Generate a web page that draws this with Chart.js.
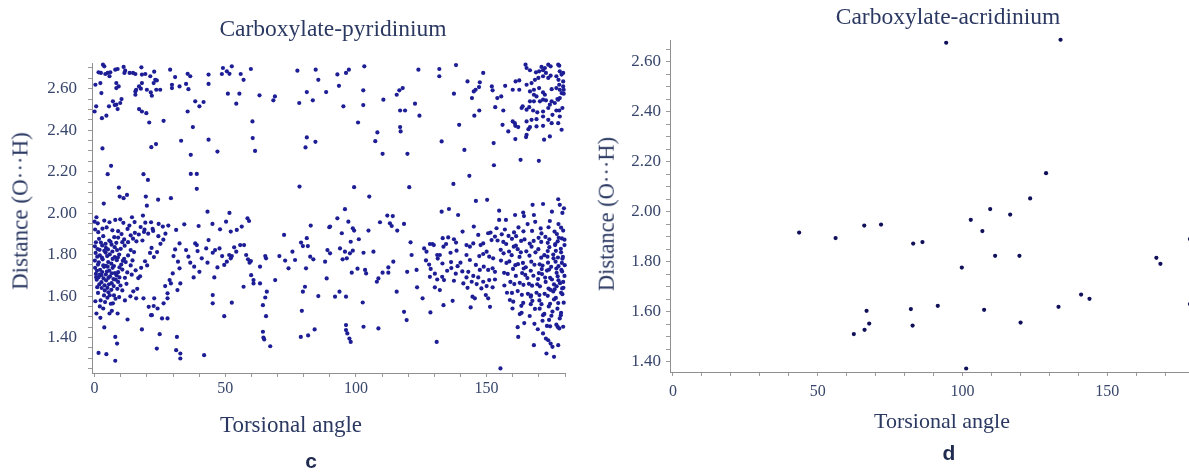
<!DOCTYPE html>
<html>
<head>
<meta charset="utf-8">
<script src="https://cdn.jsdelivr.net/npm/chart.js@4.4.1/dist/chart.umd.min.js"></script>
<style>
  html, body { margin: 0; padding: 0; background: #fff; width: 1189px; height: 472px; overflow: hidden; }
  #wrap { position: relative; width: 1189px; height: 472px; overflow: hidden; }
  canvas { position: absolute; top: 0; }
  .txt { position: absolute; transform: translate(-50%, -50%); white-space: nowrap;
         font-family: "Liberation Serif", "Times New Roman", serif; color: #2b3962; line-height: 1; }
  .rot { transform: translate(-50%, -50%) rotate(-90deg); }
  .tag { font-family: "Liberation Sans", Arial, sans-serif; font-weight: bold; color: #1e2b4f; font-size: 21px; }
</style>
</head>
<body>
<div id="wrap">
  <canvas id="chartC" width="600" height="472" style="left:0px"></canvas>
  <canvas id="chartD" width="600" height="472" style="left:600px"></canvas>

  <div class="txt" style="left:333px; top:29px; font-size:23.5px;">Carboxylate-pyridinium</div>
  <div class="txt" style="left:948px; top:17px; font-size:23.5px;">Carboxylate-acridinium</div>
  <div class="txt" style="left:291px; top:424px; font-size:23px;">Torsional angle</div>
  <div class="txt" style="left:942px; top:421px; font-size:22px;">Torsional angle</div>
  <div class="txt rot" style="left:20px; top:211px; font-size:23px;">Distance (O···H)</div>
  <div class="txt rot" style="left:607px; top:214px; font-size:22.5px;">Distance (O···H)</div>
  <div class="txt tag" style="left:311px; top:460px;">c</div>
  <div class="txt tag" style="left:949px; top:452px;">d</div>
</div>

<script>
// [torsional angle, O...H distance]

// carboxylate-pyridinium, upper band, left half
const pyrUpperLeft = [
  [3.2,2.716],[3.7,2.708],[1.5,2.679],[2.4,2.676],[4.1,2.671],[5.0,2.676],[6.0,2.679],[5.7,2.660],[7.9,2.692],[8.8,2.695],
  [8.3,2.627],[11.1,2.705],[11.7,2.687],[11.4,2.676],[13.4,2.676],[14.7,2.676],[15.6,2.671],[17.9,2.703],[18.1,2.668],[19.4,2.671],
  [21.3,2.660],[22.8,2.682],[23.2,2.643],[23.8,2.640],[22.6,2.627],[18.1,2.627],[17.0,2.611],[15.6,2.587],[15.6,2.571],[15.9,2.595],
  [17.7,2.600],[20.0,2.595],[21.5,2.582],[21.9,2.566],[23.6,2.595],[25.1,2.595],[28.9,2.692],[30.8,2.656],[29.6,2.619],[29.6,2.603],
  [32.5,2.611],[35.0,2.623],[35.6,2.672],[36.6,2.660],[35.9,2.598],[43.6,2.668],[43.6,2.623],[49.1,2.700],[48.7,2.671],[50.6,2.684],
  [51.6,2.672],[52.5,2.708],[55.9,2.671],[57.0,2.643],[59.8,2.695],[51.0,2.576],[55.4,2.576],[63.1,2.568],[54.2,2.528],[68.4,2.544],
  [69.0,2.563],[77.6,2.687],[84.6,2.692],[85.6,2.643],[81.2,2.584],[78.3,2.531],[83.5,2.544],[88.6,2.584],
  [0.3,2.619],[2.2,2.627],[2.6,2.579],[0.6,2.515],[0.0,2.490],[2.8,2.458],[4.5,2.470],[5.5,2.515],[7.0,2.539],[8.3,2.523],
  [8.8,2.502],[7.7,2.521],[9.8,2.531],[10.3,2.550],[8.3,2.603],[9.2,2.611],
  [17.0,2.502],[18.1,2.490],[19.8,2.482],[20.9,2.437],[26.4,2.445],[37.6,2.415],[38.5,2.539],[40.1,2.515],[41.7,2.536],[35.6,2.490],
  [33.1,2.349],[43.6,2.354],[47.0,2.297],[36.8,2.281],[60.4,2.442],[60.5,2.362],[61.4,2.300],[3.0,2.312],[21.7,2.318],[23.5,2.333],
  [81.2,2.365],[80.7,2.317],[84.5,2.344],[6.3,2.228],[5.0,2.188],[18.7,2.188],[20.4,2.160],[36.8,2.189],[39.1,2.189],[39.1,2.117],
  [78.4,2.128],[9.3,2.123]
];

// carboxylate-pyridinium, upper band, right half
const pyrUpperRight = [
  [92.9,2.669],[96.2,2.676],[97.3,2.692],[103.2,2.708],[93.5,2.614],[95.2,2.515],[102.8,2.592],[102.8,2.521],[100.8,2.437],[110.5,2.547],
  [108.2,2.389],[107.4,2.347],[110.2,2.286],[99.3,2.125],[123.9,2.692],[131.9,2.695],[131.9,2.660],[138.3,2.714],[148.7,2.676],[115.6,2.571],
  [116.6,2.592],[117.9,2.603],[116.9,2.495],[118.8,2.495],[122.6,2.528],[124.3,2.470],[116.9,2.415],[117.1,2.394],[119.7,2.286],[120.4,2.125],
  [137.5,2.576],[132.8,2.346],[139.5,2.426],[141.5,2.305],[143.4,2.180],[137.3,2.141],[142.7,2.635],[145.1,2.587],[145.8,2.595],[147.1,2.608],
  [147.4,2.631],[144.4,2.555],[145.3,2.470],[147.2,2.495],[152.0,2.611],[152.3,2.592],[154.1,2.555],[155.6,2.563],[153.3,2.511],[156.4,2.495],
  [157.1,2.614],[160.0,2.595],[161.1,2.635],[162.5,2.595],[162.5,2.640],[163.4,2.507],[156.1,2.426],[160.0,2.442],[161.0,2.421],[158.3,2.394],
  [161.0,2.357],[152.7,2.338],[152.8,2.231],[163.0,2.257],[170.0,2.252],
  [164.9,2.716],[165.3,2.700],[166.6,2.689],[168.9,2.679],[170.1,2.684],[171.0,2.705],[172.3,2.700],[173.6,2.716],[174.5,2.708],[177.4,2.716],
  [177.8,2.711],[178.0,2.684],[179.3,2.676],[178.7,2.668],[171.6,2.689],[172.7,2.676],[165.3,2.619],[167.2,2.627],[168.5,2.643],[169.8,2.652],
  [171.6,2.660],[173.6,2.652],[174.5,2.663],[176.7,2.660],[177.5,2.643],[179.3,2.635],[177.8,2.619],[179.3,2.611],[179.5,2.595],[178.0,2.595],
  [176.7,2.603],[178.7,2.579],[179.5,2.576],[178.0,2.555],[177.1,2.550],[166.6,2.587],[168.1,2.595],[170.1,2.603],[171.6,2.582],[174.9,2.598],
  [168.1,2.571],[169.1,2.563],[172.3,2.571],[166.6,2.539],[168.1,2.539],[170.4,2.539],[171.6,2.547],[172.7,2.544],[174.9,2.539],[176.1,2.531],
  [177.4,2.547],[163.8,2.515],[165.3,2.499],[166.3,2.511],[167.8,2.495],[169.4,2.486],[171.6,2.490],[173.6,2.507],[174.2,2.523],[176.7,2.495],
  [177.8,2.495],[179.0,2.507],[178.0,2.466],[175.2,2.474],[171.6,2.466],[169.1,2.453],[167.2,2.450],[165.3,2.442],[166.6,2.415],[169.1,2.418],
  [171.6,2.421],[173.6,2.450],[174.9,2.434],[177.4,2.434],[178.7,2.402],[174.2,2.370],[172.0,2.354],[165.1,2.367],[165.3,2.378],[162.1,2.415],
  [160.8,2.434],[166.0,2.405]
];

// carboxylate-pyridinium, lower band, 0-30 degrees
const pyrLowerLeft = [
  [9.6,2.080],[11.1,2.072],[12.4,2.088],[19.6,2.080],[20.0,2.036],[24.3,2.065],[29.2,2.072],[3.5,2.046],
  [0.7,1.980],[0.0,1.959],[1.2,1.951],[3.7,1.964],[5.7,1.956],[7.9,1.967],[9.8,1.970],[14.3,1.980],[18.5,1.988],[19.4,1.954],
  [21.6,1.956],[24.5,1.948],[26.1,1.935],
  [0.2,1.921],[1.4,1.908],[3.0,1.925],[4.6,1.931],[6.8,1.917],[9.0,1.913],[10.3,1.899],[12.6,1.924],[13.8,1.893],[15.4,1.905],
  [16.9,1.897],[18.9,1.909],[20.5,1.901],[22.4,1.914],[18.3,1.868],[16.0,1.864],[14.7,1.877],[12.8,1.860],[11.3,1.873],[9.0,1.882],
  [7.5,1.884],[5.6,1.868],[3.3,1.889],[1.7,1.876],[0.5,1.859],[0.1,1.840],[1.1,1.827],[2.9,1.844],[4.3,1.833],[6.5,1.848],
  [7.7,1.836],[10.0,1.828],[11.5,1.843],[13.8,1.822],[15.1,1.812],[0.4,1.808],[2.0,1.796],[4.2,1.810],[5.8,1.801],[7.7,1.788],
  [9.4,1.800],[11.3,1.780],[12.8,1.796],[14.5,1.772],[0.1,1.771],[1.6,1.763],[3.1,1.777],[5.2,1.764],[6.4,1.756],[8.5,1.773],
  [10.2,1.752],[11.9,1.764],[13.8,1.748],[0.2,1.736],[2.1,1.727],[3.6,1.741],[5.6,1.723],[6.9,1.736],[9.0,1.715],[10.6,1.728],
  [12.5,1.714],[0.5,1.707],[2.0,1.703],[4.3,1.704],[5.9,1.695],[7.8,1.711],[9.5,1.690],[11.6,1.688],[0.8,1.679],[2.6,1.667],
  [4.4,1.676],[6.5,1.662],[8.1,1.679],[9.9,1.651],[12.2,1.659],[1.0,1.643],[2.7,1.639],[4.9,1.640],[6.4,1.630],[8.7,1.635],
  [10.6,1.627],[1.3,1.615],[3.6,1.603],[5.3,1.618],[7.4,1.603],[9.4,1.595],[2.3,1.579],[4.0,1.571],[6.2,1.563],[8.0,1.587],
  [0.3,1.575],[11.6,1.579],[13.7,1.599],[14.8,1.623],[16.3,1.635],[16.7,1.687],[17.4,1.695],[14.2,1.703],[15.7,1.724],[17.8,1.736],
  [19.3,1.768],[20.1,1.748],[21.2,1.808],[22.7,1.788],[21.8,1.832],[23.9,1.812],[25.2,1.852],[26.3,1.872],[24.4,1.889],[27.1,1.901],
  [28.2,1.940],[17.6,1.933],[19.1,1.920],[22.2,1.924],[13.3,1.940],[11.0,1.953],[15.3,1.957],
  [1.0,1.790],[2.8,1.785],[4.8,1.793],[6.9,1.779],[8.9,1.786],[10.8,1.770],[1.3,1.752],[3.3,1.748],[5.0,1.742],[7.4,1.745],
  [9.5,1.738],[0.9,1.722],[2.9,1.716],[4.7,1.718],[6.6,1.710],[8.4,1.700],[1.5,1.690],[3.4,1.685],[5.3,1.688],[7.2,1.682],
  [9.0,1.668],[1.8,1.656],[3.8,1.652],[5.5,1.657],[7.3,1.648],[1.9,1.823],[3.7,1.818],[5.1,1.825],[6.8,1.815],[8.6,1.822],
  [2.4,1.858],[4.2,1.852],[6.1,1.862],[8.3,1.857],[10.6,1.860],[4.3,1.746],[2.6,1.701],[0.6,1.691],[3.9,1.627],[5.8,1.604],
  [2.0,1.550],[3.3,1.540],[4.9,1.592],
  [0.7,1.516],[2.2,1.495],[3.7,1.449],[5.7,1.516],[6.6,1.529],[7.0,1.565],[8.8,1.516],[12.6,1.487],[7.9,1.403],[8.6,1.371],
  [1.5,1.326],[4.5,1.320],[7.9,1.288],[18.1,1.439],[21.9,1.508],[23.8,1.347],[24.9,1.416],[25.8,1.492],[27.9,1.492],[24.1,1.540],
  [26.4,1.565],[27.9,1.589],[29.2,1.661],[15.9,1.589],[18.7,1.589],[22.8,1.589],[20.7,1.548],[22.6,1.552],[21.6,1.508]
];

// carboxylate-pyridinium, lower band, 30-90 degrees
const pyrLowerMid = [
  [34.3,1.946],[39.8,1.938],[43.2,2.007],[45.1,1.948],[50.3,1.959],[51.6,2.001],[58.5,1.975],[59.1,1.962],[56.3,1.935],[54.4,1.919],
  [48.0,1.922],[52.1,1.911],[31.2,1.919],[30.8,1.825],[32.5,1.854],[30.2,1.793],[31.9,1.766],[32.5,1.734],[29.9,1.709],[28.7,1.677],
  [27.0,1.648],[27.9,1.613],[31.7,1.629],[32.8,1.661],[35.0,1.822],[35.9,1.790],[36.6,1.761],[38.5,1.854],[39.1,1.846],[39.4,1.817],
  [38.1,1.742],[40.1,1.717],[37.9,1.690],[41.0,1.782],[42.7,1.830],[43.2,1.761],[43.6,1.870],[45.2,1.809],[45.8,1.690],[46.1,1.822],
  [47.8,1.830],[47.0,1.738],[48.8,1.793],[49.6,1.750],[50.6,1.766],[51.5,1.798],[52.1,1.782],[52.5,1.793],[53.4,1.835],[54.2,1.814],
  [55.7,1.846],[57.2,1.846],[58.0,1.798],[58.7,1.777],[59.3,1.761],[59.9,1.701],[60.8,1.661],[59.8,1.769],[63.3,1.742],[65.3,1.793],
  [65.6,1.782],[63.3,1.661],[65.3,1.593],[65.9,1.621],[64.4,1.556],[65.6,1.503],[64.4,1.428],[64.6,1.400],[64.9,1.391],[67.2,1.358],
  [69.1,1.677],[70.7,1.793],[72.5,1.895],[72.9,1.771],[74.2,1.734],[75.7,1.814],[76.7,1.774],[79.0,1.858],[79.7,1.841],[81.2,1.879],
  [81.6,1.841],[82.5,1.790],[82.7,1.940],[83.7,1.777],[80.9,1.734],[80.5,1.645],[79.7,1.621],[79.3,1.529],[78.9,1.403],[81.7,1.410],
  [84.2,1.439],[85.6,1.600],[88.8,1.685],[89.1,1.822],[89.8,1.932],[88.2,1.766],
  [31.5,1.403],[31.2,1.339],[32.8,1.323],[32.8,1.299],[41.9,1.315],[49.6,1.503],[45.2,1.565],[45.2,1.605],[52.5,1.568],[57.0,1.645],
  [60.8,1.677]
];

// carboxylate-pyridinium, lower band, 90-155 degrees
const pyrLowerRightMid = [
  [105.1,2.080],[95.8,2.019],[92.9,1.975],[90.1,1.935],[94.6,1.903],[97.1,1.959],[98.8,1.927],[99.3,1.916],[98.0,1.862],[101.1,1.874],
  [104.8,1.916],[109.2,1.956],[112.0,1.988],[114.1,1.986],[113.0,1.951],[113.7,1.938],[115.8,1.916],[118.4,1.948],[120.9,1.859],[121.3,1.798],
  [114.3,1.766],[112.4,1.738],[110.2,1.713],[106.7,1.814],[102.9,1.809],[100.6,1.732],[103.5,1.726],[103.9,1.709],[108.0,1.669],[108.6,1.685],
  [97.7,1.806],[96.5,1.782],[94.9,1.777],[93.9,1.830],[95.8,1.814],[98.8,1.819],[90.1,1.806],[92.0,1.597],[93.7,1.621],[96.2,1.597],
  [102.6,1.569],[98.4,1.713],[112.4,1.713],[115.6,1.621],[119.6,1.717],[118.4,1.524],[119.4,1.484],[123.2,1.726],[123.4,1.642],[125.5,1.589],
  [128.5,1.521],[130.9,1.379],[96.2,1.460],[96.2,1.436],[96.7,1.420],[97.5,1.395],[98.0,1.379],[102.9,1.452],[108.6,1.444],
  [126.1,1.830],[127.0,1.814],[128.3,1.851],[129.3,1.851],[129.8,1.846],[131.1,1.798],[132.1,1.798],[133.5,1.838],[134.5,1.851],[135.3,1.883],
  [137.5,1.874],[138.3,1.858],[133.2,1.879],[126.8,1.772],[128.0,1.752],[131.3,1.781],[133.1,1.757],[136.4,1.764],[138.9,1.744],[140.0,1.761],
  [136.2,1.809],[138.5,1.819],[140.8,1.911],[142.3,1.846],[143.6,1.838],[144.9,1.854],[145.1,1.935],[146.8,1.895],[147.7,1.846],[148.7,1.854],
  [150.6,1.903],[151.5,1.906],[151.9,1.870],[153.2,1.887],[147.2,1.793],[148.7,1.803],[150.0,1.814],[151.0,1.790],[152.5,1.782],[143.6,1.774],
  [145.9,1.750],[147.4,1.726],[148.9,1.742],[150.6,1.726],[152.3,1.734],[153.2,1.717],[143.0,1.717],[144.9,1.697],[146.8,1.690],[148.7,1.669],
  [151.0,1.677],[153.2,1.680],[128.6,1.731],[130.2,1.708],[133.0,1.693],[134.9,1.722],[136.5,1.735],[138.2,1.708],[140.7,1.719],[142.3,1.690],
  [144.3,1.669],[131.1,1.680],[133.7,1.677],[137.5,1.674],[141.1,1.661],[142.7,1.640],[146.2,1.658],[148.0,1.637],[150.0,1.648],[152.3,1.642],
  [144.6,1.597],[145.5,1.589],[149.7,1.605],[150.6,1.589],[151.3,1.548],[143.9,1.545],[137.0,1.577],[128.3,1.693],[130.2,1.642],[132.1,1.629],
  [133.5,1.556],[142.3,1.798],
  [132.8,2.007],[135.6,2.020],[139.1,1.991],[145.9,2.059],[150.2,2.064],[154.8,2.012],[157.4,1.967],[160.9,1.991],[164.0,2.003],[164.3,1.986],
  [167.6,2.040],[168.1,1.991],[171.6,2.044],[175.0,2.007],[177.4,2.067],[178.0,2.040],[179.6,2.023],[179.0,2.001],[154.8,1.967],[153.8,1.927]
];

// carboxylate-pyridinium, lower band, 155-180 degrees
const pyrLowerRight = [
  [155.8,1.898],[157.0,1.921],[158.4,1.890],[160.5,1.907],[161.3,1.889],[162.2,1.931],[164.1,1.912],[165.7,1.947],[167.4,1.914],[168.6,1.958],
  [170.7,1.926],[171.0,1.902],[173.7,1.932],[174.2,1.962],[176.0,1.911],[177.5,1.947],[178.5,1.930],[179.3,1.916],[177.6,1.881],[176.9,1.899],
  [179.8,1.872],[154.2,1.868],[156.4,1.861],[157.5,1.851],[159.7,1.876],[161.2,1.843],[163.2,1.866],[164.5,1.873],[166.5,1.853],[168.0,1.866],
  [169.9,1.881],[170.9,1.861],[173.4,1.857],[174.0,1.874],[176.3,1.851],[177.2,1.864],[178.8,1.878],[179.8,1.846],[155.4,1.823],[156.5,1.806],
  [158.6,1.815],[159.6,1.797],[161.9,1.826],[163.1,1.811],[165.2,1.816],[166.4,1.795],[168.7,1.811],[169.8,1.826],[172.1,1.797],[173.4,1.817],
  [175.5,1.800],[176.5,1.818],[178.5,1.811],[179.2,1.789],[155.5,1.771],[157.6,1.760],[158.7,1.767],[161.0,1.749],[162.0,1.754],[163.9,1.760],
  [165.0,1.739],[167.1,1.766],[168.3,1.751],[170.3,1.753],[171.4,1.747],[173.5,1.761],[174.7,1.741],[176.4,1.766],[177.5,1.744],[178.8,1.760],
  [179.9,1.749],[156.7,1.712],[158.1,1.707],[160.1,1.731],[161.2,1.697],[163.6,1.711],[164.8,1.702],[166.9,1.722],[167.9,1.698],[170.0,1.711],
  [171.2,1.706],[173.1,1.723],[174.3,1.688],[176.8,1.712],[177.2,1.695],[178.9,1.719],[179.8,1.697],[156.8,1.651],[159.1,1.668],[160.6,1.658],
  [162.7,1.664],[164.1,1.654],[166.2,1.659],[167.4,1.650],[169.4,1.657],[170.4,1.647],[172.6,1.668],[173.7,1.636],[175.8,1.656],[176.8,1.647],
  [178.1,1.662],[179.4,1.640],[157.8,1.616],[159.7,1.615],[161.9,1.624],[163.5,1.606],[165.8,1.611],[167.0,1.603],[169.1,1.616],[170.2,1.605],
  [172.2,1.611],[173.4,1.601],[175.5,1.622],[176.5,1.591],[178.5,1.616],[179.0,1.609],[160.2,1.573],[163.3,1.553],[164.0,1.567],[166.9,1.561],
  [167.5,1.577],[170.3,1.539],[171.0,1.561],[173.8,1.550],[174.3,1.563],[177.1,1.539],[177.4,1.566],[179.5,1.568],[162.7,1.513],[163.4,1.519],
  [166.5,1.504],[168.5,1.538],[171.6,1.508],[172.1,1.514],[174.8,1.505],[175.2,1.525],[178.4,1.508],[178.5,1.519],[161.9,1.450],[164.4,1.470],
  [168.3,1.466],[171.4,1.481],[173.1,1.456],[174.3,1.454],[176.7,1.462],[177.8,1.444],[177.2,1.451],
  [162.1,1.403],[168.1,1.363],[171.6,1.420],[172.7,1.395],[173.6,1.387],[174.5,1.371],[175.2,1.355],[172.9,1.323],[175.8,1.307],[177.4,1.363],
  [178.0,1.492],[179.3,1.452],[158.9,1.581],[159.9,1.540],[155.3,1.251],
  [172.5,1.885],[174.0,1.836],[176.2,1.846],[178.4,1.828],[170.9,1.785],[173.3,1.790],[175.6,1.782],[177.3,1.786],[179.0,1.780],[171.1,1.730],
  [173.9,1.728],[176.7,1.733],[178.6,1.726],[169.7,1.682],[172.4,1.689],[175.0,1.680],[177.5,1.676],[179.3,1.668],[174.4,1.630],[176.0,1.633],
  [178.9,1.637],[170.2,1.579],[175.8,1.584],[173.9,1.485],[169.6,1.440],[166.9,1.597],[164.2,1.733],[162.6,1.789],[160.4,1.838],[167.2,1.838],
  [165.6,1.687]
];

// carboxylate-acridinium
const acridinium = [
  [43.6,1.916],[56.2,1.894],[66.1,1.944],[71.9,1.948],[83.0,1.872],[86.2,1.878],[102.9,1.967],[109.6,2.010],[116.5,1.988],[106.9,1.922],
  [111.3,1.823],[119.7,1.823],[99.8,1.776],[167.0,1.815],[168.4,1.791],[66.9,1.603],[82.2,1.610],[91.5,1.623],[107.5,1.607],[133.2,1.619],
  [141.0,1.668],[143.9,1.651],[67.8,1.552],[66.2,1.527],[62.5,1.510],[82.8,1.544],[120.1,1.556],[101.3,1.372],[94.4,2.676],[133.9,2.688],
  [128.9,2.154],[123.4,2.053],[178.6,1.890],[178.6,1.630]
];

const xTickEvery = 50;
const yTickEvery = 0.2;

function toXY(list) {
  return list.map(p => ({ x: p[0], y: p[1] }));
}

function makeScatter(id, pts, cfg) {
  new Chart(document.getElementById(id), {
    type: "scatter",
    data: {
      datasets: [{
        data: toXY(pts),
        pointRadius: 2.1,
        pointBorderWidth: 0,
        pointBackgroundColor: cfg.dot,
        clip: false
      }]
    },
    options: {
      responsive: false,
      animation: false,
      events: [],
      layout: { padding: cfg.pad },
      plugins: { legend: { display: false }, tooltip: { enabled: false } },
      scales: {
        x: {
          type: "linear",
          min: cfg.xMin, max: cfg.xMax,
          border: { color: "#8f8f8f" },
          grid: { drawOnChartArea: false, tickLength: 4, color: "#9a9a9a" },
          ticks: {
            stepSize: 10, includeBounds: false, autoSkip: false, maxRotation: 0, padding: cfg.xPad,
            color: "#38466b", font: { family: "Liberation Serif", size: 16 },
            callback: v => (Math.round(v) % xTickEvery === 0 ? String(Math.round(v)) : "")
          },
          afterFit: s => { s.height = 40; }
        },
        y: {
          type: "linear",
          min: cfg.yMin, max: cfg.yMax,
          border: { color: "#8f8f8f" },
          grid: { drawOnChartArea: false, tickLength: 4, color: "#9a9a9a" },
          ticks: {
            stepSize: 0.05, includeBounds: false, autoSkip: false, padding: cfg.yPad,
            color: "#38466b", font: { family: "Liberation Serif", size: 17 },
            callback: v => {
              const k = Math.round(v * 100);
              return k % Math.round(yTickEvery * 100) === 0 ? (k / 100).toFixed(2) : "";
            }
          },
          afterFit: s => { s.width = 60; }
        }
      }
    }
  });
}

makeScatter("chartC",
  [].concat(pyrUpperLeft, pyrUpperRight, pyrLowerLeft, pyrLowerMid, pyrLowerRightMid, pyrLowerRight),
  { dot: "#1d1d96", xMin: -1, xMax: 180, yMin: 1.229, yMax: 2.724,
    pad: { left: 32, right: 35, top: 63, bottom: 59 }, xPad: 2, yPad: 11 });

makeScatter("chartD", acridinium,
  { dot: "#10105a", xMin: -1, xMax: 180, yMin: 1.358, yMax: 2.687,
    pad: { left: 10, right: 6, top: 40, bottom: 60 }, xPad: 6, yPad: 5 });
</script>
</body>
</html>
